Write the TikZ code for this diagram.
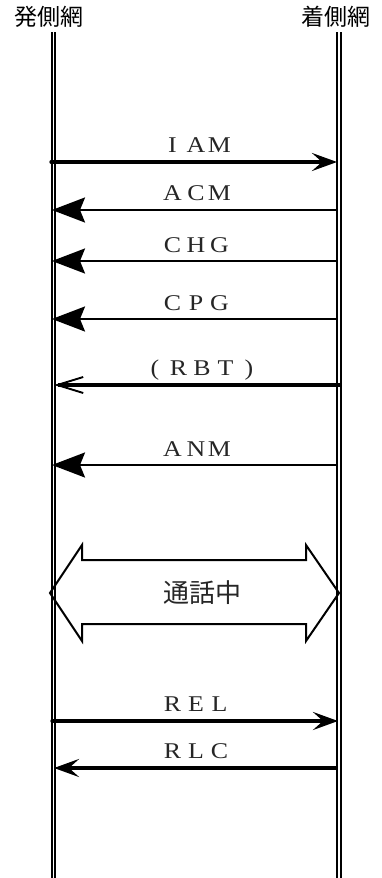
\documentclass[tikz,border=0pt]{standalone}
\usepackage{fontspec}
\setmainfont{Liberation Serif}[FakeStretch=1.15]
\newfontfamily\jpfont{Noto Sans CJK JP}
\usetikzlibrary{arrows.meta}
\makeatletter
\newcommand\fwtext[1]{\@tfor\fwch:=#1\do{\makebox[23.5pt]{\fwch}}}
\makeatother
\begin{document}
\begin{tikzpicture}[x=1pt,y=1pt,
  life/.style={double=white,double distance=1.8pt,line width=1.9pt},
  head/.style={font=\jpfont\fontsize{23pt}{23pt}\selectfont,inner sep=0pt},
  msglabel/.style={font=\fontsize{22.5pt}{22.5pt}\selectfont,anchor=base,inner sep=0pt,text=black!85},
  thinmsg/.style={line width=2.2pt,-{Stealth[length=33pt,width=25pt,inset=5pt]}},
  boldmsg/.style={line width=3.3pt,line cap=round,-{Stealth[length=25pt,width=18pt,inset=10pt]}},
  rbtmsg/.style={line width=4.6pt,-{Straight Barb[length=26pt,width=16pt,line width=1.9pt]}},
  callbox/.style={line width=2pt,line join=miter}]
\useasboundingbox (0,0) rectangle (382,-878);
% headers
\node[head] (orig) at (49,-17) {発側網};
\node[head] (term) at (336,-17) {着側網};
% lifelines
\coordinate (Ltop) at (53.4,-32);
\coordinate (Lbot) at (53.4,-880);
\coordinate (Rtop) at (338.7,-32);
\coordinate (Rbot) at (338.7,-880);
\draw[life] (Ltop) -- (Lbot);
\draw[life] (Rtop) -- (Rbot);
% message end points
\coordinate (iamL) at (51,-162);   \coordinate (iamR) at (337,-162);
\coordinate (acmR) at (336,-210);  \coordinate (acmL) at (52,-210);
\coordinate (chgR) at (336,-261);  \coordinate (chgL) at (52,-261);
\coordinate (cpgR) at (336,-319);  \coordinate (cpgL) at (52,-319);
\coordinate (rbtR) at (340,-385);  \coordinate (rbtL) at (54,-385);
\coordinate (anmR) at (336,-465);  \coordinate (anmL) at (52,-465);
\coordinate (relL) at (52,-721);   \coordinate (relR) at (338,-721);
\coordinate (rlcR) at (337,-768);  \coordinate (rlcL) at (54,-768);
% messages
\draw[boldmsg] (iamL) -- (iamR);
\node[msglabel] (iam) at (196,-152) {\fwtext{IAM}};
\draw[thinmsg] (acmR) -- (acmL);
\node[msglabel] (acm) at (196,-200) {\fwtext{ACM}};
\draw[thinmsg] (chgR) -- (chgL);
\node[msglabel] (chg) at (196,-252) {\fwtext{CHG}};
\draw[thinmsg] (cpgR) -- (cpgL);
\node[msglabel] (cpg) at (196,-310) {\fwtext{CPG}};
\draw[rbtmsg] (rbtR) -- (rbtL);
\node[msglabel] (rbt) at (202,-375) {\fwtext{(RBT)}};
\draw[thinmsg] (anmR) -- (anmL);
\node[msglabel] (anm) at (196,-456) {\fwtext{ANM}};
% call in progress
\draw[callbox] (50,-593) -- (82,-545) -- (82,-560) -- (306,-560) -- (306,-545)
  -- (339,-593) -- (306,-641) -- (306,-624) -- (82,-624) -- (82,-641) -- cycle;
\node[font=\jpfont\fontsize{26pt}{26pt}\selectfont,inner sep=0pt,text=black!85] (call) at (202,-593) {通話中};
% release
\draw[boldmsg] (relL) -- (relR);
\node[msglabel] (rel) at (196,-711) {\fwtext{REL}};
\draw[boldmsg,line cap=butt] (rlcR) -- (rlcL);
\node[msglabel] (rlc) at (196,-758) {\fwtext{RLC}};
\end{tikzpicture}
\end{document}
